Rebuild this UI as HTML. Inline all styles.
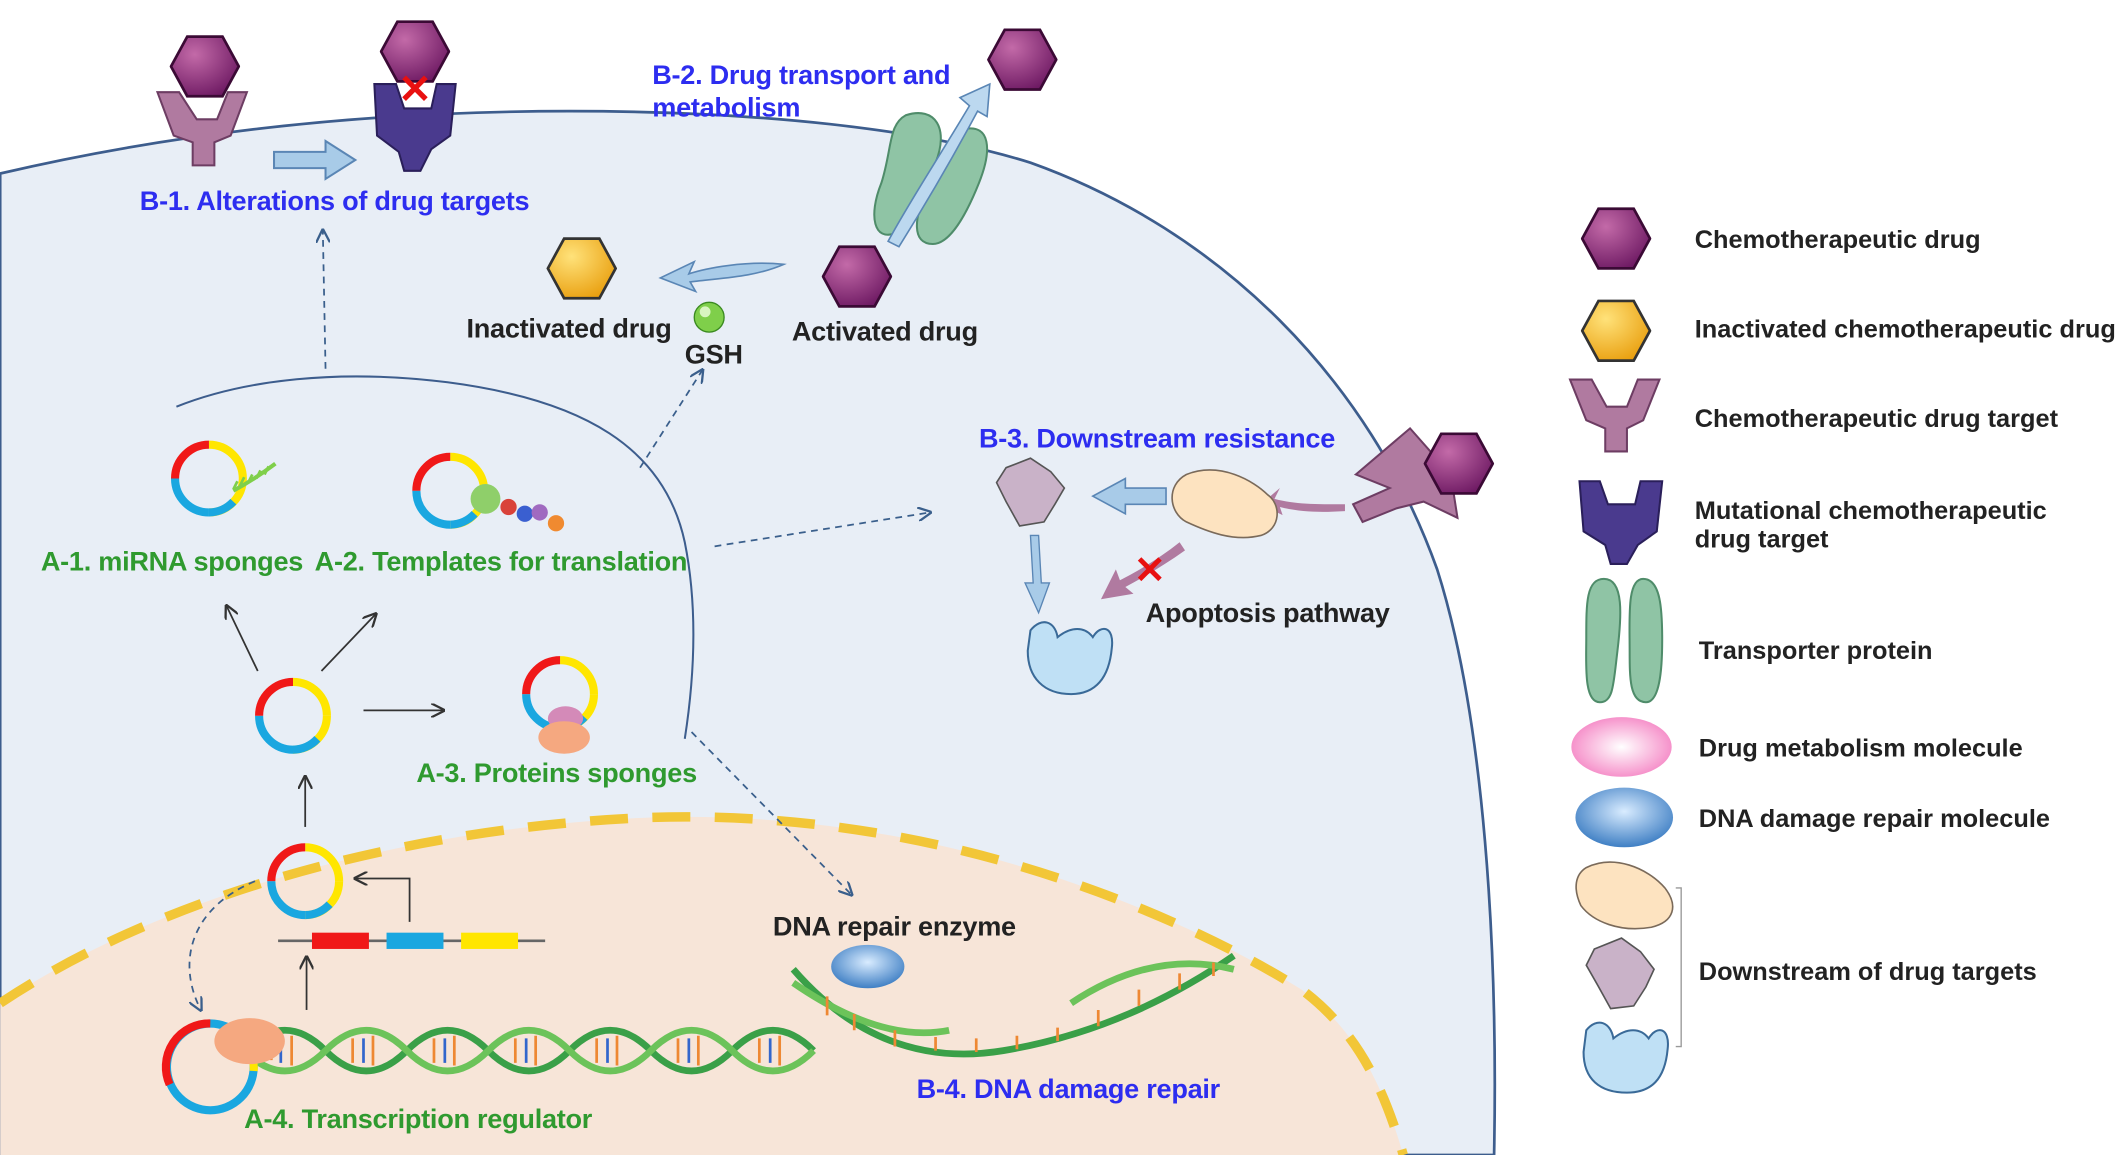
<!DOCTYPE html>
<html><head><meta charset="utf-8"><style>
html,body{margin:0;padding:0;background:#fff;width:2126px;height:1155px;overflow:hidden}
svg{display:block}
text{font-family:"Liberation Sans",Arial,sans-serif;font-weight:bold}
.b{fill:#2d2df0;font-size:20px;letter-spacing:-0.2px}
.g{fill:#2f9a2f;font-size:20px;letter-spacing:-0.2px}
.k{fill:#222;font-size:20px;letter-spacing:-0.2px}
.l{fill:#222;font-size:18.7px}
</style></head><body>
<svg width="2126" height="1155" viewBox="0 0 1568 852" xmlns="http://www.w3.org/2000/svg">
<defs>
<radialGradient id="hp" cx="0.35" cy="0.3" r="0.8"><stop offset="0" stop-color="#c36aa8"/><stop offset="1" stop-color="#6a1660"/></radialGradient>
<radialGradient id="hy" cx="0.35" cy="0.3" r="0.8"><stop offset="0" stop-color="#ffe27a"/><stop offset="1" stop-color="#e89c0a"/></radialGradient>
<radialGradient id="pk" cx="0.5" cy="0.5" r="0.6"><stop offset="0" stop-color="#fff"/><stop offset="1" stop-color="#f47cc0"/></radialGradient>
<radialGradient id="bl" cx="0.5" cy="0.4" r="0.6"><stop offset="0" stop-color="#d9ecff"/><stop offset="1" stop-color="#3f7fc4"/></radialGradient>
<marker id="ar" markerWidth="8" markerHeight="8" refX="7" refY="4" orient="auto"><path d="M0,0 L8,4 L0,8" fill="none" stroke="#3a5f8c" stroke-width="1.3"/></marker>
<marker id="ak" markerWidth="8" markerHeight="8" refX="7" refY="4" orient="auto"><path d="M0,0 L8,4 L0,8" fill="none" stroke="#333" stroke-width="1.3"/></marker>
<symbol id="hex" viewBox="-26 -24 52 48"><polygon points="-13,-22 13,-22 25,0 13,22 -13,22 -25,0" fill="url(#hp)" stroke="#3b0a35" stroke-width="2"/></symbol>
<symbol id="hexy" viewBox="-26 -24 52 48"><polygon points="-13,-22 13,-22 25,0 13,22 -13,22 -25,0" fill="url(#hy)" stroke="#333" stroke-width="2"/></symbol>
<symbol id="ring" viewBox="-30 -30 60 60">
<path d="M0,-25 A25,25 0 0 1 25,0" fill="none" stroke="#ffe600" stroke-width="6"/>
<path d="M25,0 A25,25 0 0 1 0,25" fill="none" stroke="#ffe600" stroke-width="6"/>
<path d="M0,25 A25,25 0 0 1 -25,0" fill="none" stroke="#1aa7e0" stroke-width="6"/>
<path d="M-25,0 A25,25 0 0 1 0,-25" fill="none" stroke="#f01818" stroke-width="6"/>
<path d="M18,17 A25,25 0 0 1 0,25" fill="none" stroke="#1aa7e0" stroke-width="6"/>
</symbol>
</defs>
<path d="M0,128 C120,100 260,82 420,82 C560,82 680,95 760,120 C900,170 1010,280 1060,420 C1095,530 1105,700 1102,852 L0,852 Z" fill="#e8eef6" stroke="#3d5d8d" stroke-width="2"/>
<path d="M0,740 C120,660 300,610 480,603 C700,596 880,680 960,730 C1000,760 1020,800 1035,852 L0,852 Z" fill="#f7e5d8"/>
<path d="M0,740 C120,660 300,610 480,603 C700,596 880,680 960,730 C1000,760 1020,800 1035,852" fill="none" stroke="#f2c637" stroke-width="7" stroke-dasharray="28,18"/>
<path d="M130,300 C180,280 250,272 330,282 C430,295 490,330 505,400 C515,450 512,500 505,545" fill="none" stroke="#3d5d8d" stroke-width="1.5"/>

<use href="#hex" x="125" y="25" width="52" height="48"/>
<path d="M116,68 L132,68 L145,88 L160,88 L168,68 L182,68 L170,100 L158,105 L158,122 L142,122 L142,105 L128,100 Z" fill="#b07aa0" stroke="#6d3d63" stroke-width="1.5"/>
<path d="M202,112 L240,112 L240,104 L262,118 L240,132 L240,124 L202,124 Z" fill="#a8cbe8" stroke="#5a86b5" stroke-width="1.5"/>
<use href="#hex" x="280" y="14" width="52" height="48"/>
<path d="M276,62 L292,62 L298,80 L318,80 L322,62 L336,62 L332,100 L318,110 L310,126 L298,126 L294,112 L278,100 Z" fill="#4a3a8e" stroke="#2a1f5a" stroke-width="1.5"/>
<text x="306" y="76" fill="#e81010" font-size="30" text-anchor="middle" font-weight="bold">✕</text>
<text x="103" y="155" class="b">B-1. Alterations of drug targets</text>
<line x1="240" y1="272" x2="238" y2="170" stroke="#3a5f8c" stroke-width="1.3" stroke-dasharray="5,4" marker-end="url(#ar)"/>

<text x="481" y="62" class="b">B-2. Drug transport and</text>
<text x="481" y="86" class="b">metabolism</text>
<use href="#hex" x="728" y="20" width="52" height="48"/>
<path d="M668,85 C690,78 700,95 690,120 C680,145 670,165 660,172 C645,178 640,160 650,135 C658,110 655,92 668,85Z" fill="#8fc4a5" stroke="#4f8c6a" stroke-width="1.5"/>
<path d="M712,95 C730,92 732,110 722,135 C712,160 700,180 688,180 C672,180 674,160 684,140 C694,118 698,100 712,95Z" fill="#8fc4a5" stroke="#4f8c6a" stroke-width="1.5"/>
<path d="M655,178 C670,150 690,120 715,78 L708,72 L730,62 L728,86 L721,82 C698,125 678,158 663,182 Z" fill="#bcd8ef" stroke="#5a86b5" stroke-width="1.2"/>
<use href="#hex" x="606" y="180" width="52" height="48"/>
<path d="M578,195 C550,192 520,198 508,202 L512,193 L487,205 L513,215 L509,208 C530,205 555,205 578,195Z" fill="#a8cbe8" stroke="#5a86b5" stroke-width="1.2"/>
<use href="#hexy" x="403" y="174" width="52" height="48"/>
<circle cx="523" cy="234" r="11" fill="#7fcf4a" stroke="#3a8a20" stroke-width="1"/>
<circle cx="520" cy="230" r="4" fill="#d8f5c0"/>
<text x="344" y="249" class="k">Inactivated drug</text>
<text x="505" y="268" class="k">GSH</text>
<text x="584" y="251" class="k">Activated drug</text>
<line x1="472" y1="345" x2="518" y2="273" stroke="#3a5f8c" stroke-width="1.3" stroke-dasharray="5,4" marker-end="url(#ar)"/>

<text x="722" y="330" class="b">B-3. Downstream resistance</text>
<line x1="527" y1="403" x2="686" y2="378" stroke="#3a5f8c" stroke-width="1.3" stroke-dasharray="5,4" marker-end="url(#ar)"/>
<path d="M1000,350 L1040,316 L1070,350 L1075,382 L1050,370 L1030,375 L1005,385 L998,372 L1025,360 Z" fill="#b07aa0" stroke="#6d3d63" stroke-width="1.5"/>
<use href="#hex" x="1050" y="318" width="52" height="48"/>
<path d="M992,372 C970,372 955,372 940,368 L944,360 L930,372 L946,380 L944,374 C960,378 975,378 992,377Z" fill="#b07aa0"/>
<path d="M875,350 C900,340 925,355 935,365 C945,372 945,390 930,395 C910,400 890,392 875,385 C862,378 860,358 875,350Z" fill="#fde3c0" stroke="#7a6a5a" stroke-width="1.2"/>
<path d="M860,360 L830,360 L830,353 L806,366 L830,379 L830,372 L860,372 Z" fill="#a8cbe8" stroke="#5a86b5" stroke-width="1.2"/>
<path d="M742,345 L760,338 L775,348 L785,360 L778,372 L770,385 L752,388 L742,370 L735,356 Z" fill="#c9b2c8" stroke="#555" stroke-width="1.2"/>
<path d="M760,395 L762,430 L756,430 L766,452 L774,430 L768,430 L766,395Z" fill="#a8cbe8" stroke="#5a86b5" stroke-width="1"/>
<path d="M870,400 C855,412 838,422 826,428 L823,420 L812,442 L836,438 L830,433 C845,425 860,416 874,406Z" fill="#b07aa0"/>
<text x="848" y="430" fill="#e81010" font-size="28" text-anchor="middle" font-weight="bold">✕</text>
<path d="M760,465 C768,455 778,458 780,470 C790,462 800,462 806,470 C812,460 822,462 820,478 C818,500 808,512 790,512 C770,512 758,500 758,480 Z" fill="#bfe0f5" stroke="#3a6a98" stroke-width="1.5"/>
<text x="845" y="459" class="k">Apoptosis pathway</text>

<use href="#ring" x="124" y="323" width="60" height="60"/>
<path d="M172,362 C185,355 195,348 203,342" stroke="#7fcf4a" stroke-width="3" fill="none"/>
<path d="M175,355 l-3,6 M180,352 l-3,6 M186,350 l-3,6 M192,347 l-3,6 M198,344 l-3,6" stroke="#7fcf4a" stroke-width="2"/>
<use href="#ring" x="302" y="332" width="60" height="60"/>
<circle cx="358" cy="368" r="11" fill="#8fcf6a"/>
<circle cx="375" cy="374" r="6" fill="#d9423a"/><circle cx="387" cy="379" r="6" fill="#3a5fd0"/><circle cx="398" cy="378" r="6" fill="#a06ac0"/><circle cx="410" cy="386" r="6" fill="#f08a30"/>
<text x="30" y="421" class="g">A-1. miRNA sponges</text>
<text x="232" y="421" class="g">A-2. Templates for translation</text>
<use href="#ring" x="186" y="498" width="60" height="60"/>
<line x1="190" y1="495" x2="167" y2="447" stroke="#333" stroke-width="1.3" marker-end="url(#ak)"/>
<line x1="237" y1="495" x2="277" y2="453" stroke="#333" stroke-width="1.3" marker-end="url(#ak)"/>
<line x1="268" y1="524" x2="327" y2="524" stroke="#333" stroke-width="1.3" marker-end="url(#ak)"/>
<use href="#ring" x="383" y="482" width="60" height="60"/>
<ellipse cx="417" cy="530" rx="13" ry="9" fill="#d48ab8"/>
<ellipse cx="416" cy="544" rx="19" ry="12" fill="#f5a880"/>
<text x="307" y="577" class="g">A-3. Proteins  sponges</text>
<line x1="225" y1="610" x2="225" y2="573" stroke="#333" stroke-width="1.3" marker-end="url(#ak)"/>
<use href="#ring" x="195" y="620" width="60" height="60"/>
<path d="M302,680 L302,648 L262,648" fill="none" stroke="#333" stroke-width="1.3" marker-end="url(#ak)"/>
<line x1="205" y1="694" x2="402" y2="694" stroke="#666" stroke-width="2"/>
<rect x="230" y="688" width="42" height="12" fill="#f01818"/><rect x="285" y="688" width="42" height="12" fill="#1aa7e0"/><rect x="340" y="688" width="42" height="12" fill="#ffe600"/>
<line x1="226" y1="745" x2="226" y2="706" stroke="#333" stroke-width="1.3" marker-end="url(#ak)"/>
<path d="M188,650 C140,670 130,710 148,745" fill="none" stroke="#3a5f8c" stroke-width="1.3" stroke-dasharray="5,4" marker-end="url(#ar)"/>
<line x1="510" y1="540" x2="628" y2="660" stroke="#3a5f8c" stroke-width="1.3" stroke-dasharray="5,4" marker-end="url(#ar)"/>
<g stroke-width="5" fill="none">
<path d="M180,775 Q210,745 240,775 T300,775 T360,775 T420,775 T480,775 T540,775 T600,775" stroke="#3aa048"/>
<path d="M180,775 Q210,805 240,775 T300,775 T360,775 T420,775 T480,775 T540,775 T600,775" stroke="#6cc35a"/>
<path d="M585,715 Q650,790 740,775 Q830,760 910,705" stroke="#3aa048"/>
<path d="M585,725 Q650,770 700,760" stroke="#6cc35a"/>
<path d="M790,740 Q850,700 910,715" stroke="#6cc35a"/>
</g>
<g stroke-width="2">
<path d="M200,768 v14 M215,764 v22 M260,766 v18 M275,764 v22 M320,766 v18 M335,764 v22 M380,766 v18 M395,764 v22 M440,766 v18 M455,764 v22 M500,766 v18 M515,764 v22 M560,766 v18 M575,764 v22" stroke="#e83" />
<path d="M207,766 v18 M268,766 v18 M328,766 v18 M388,766 v18 M448,766 v18 M508,766 v18 M568,766 v18" stroke="#36c"/>
<path d="M610,735 v14 M630,748 v12 M660,760 v12 M690,765 v10 M720,766 v10 M750,764 v10 M780,758 v10 M810,745 v12 M840,730 v12 M870,718 v12 M895,710 v10" stroke="#e83"/>
</g>
<ellipse cx="155" cy="787" rx="32" ry="32" fill="none" stroke="#1aa7e0" stroke-width="6"/>
<path d="M125,800 A32,32 0 0 1 155,755" fill="none" stroke="#f01818" stroke-width="6"/>
<path d="M180,768 A32,32 0 0 1 187,790" fill="none" stroke="#ffe600" stroke-width="6"/>
<ellipse cx="184" cy="768" rx="26" ry="17" fill="#f5a880"/>
<ellipse cx="640" cy="713" rx="27" ry="16" fill="url(#bl)"/>
<text x="570" y="690" class="k">DNA repair enzyme</text>
<text x="180" y="832" class="g">A-4. Transcription regulator</text>
<text x="676" y="810" class="b">B-4. DNA damage repair</text>

<use href="#hex" x="1166" y="152" width="52" height="48"/>
<text x="1250" y="183" class="l">Chemotherapeutic drug</text>
<use href="#hexy" x="1166" y="220" width="52" height="48"/>
<text x="1250" y="249" class="l">Inactivated chemotherapeutic drug</text>
<path d="M1158,280 L1174,280 L1185,300 L1200,300 L1208,280 L1224,280 L1212,310 L1200,316 L1200,333 L1184,333 L1184,316 L1170,310 Z" fill="#b07aa0" stroke="#6d3d63" stroke-width="1.5"/>
<text x="1250" y="315" class="l">Chemotherapeutic drug target</text>
<path d="M1165,355 L1180,355 L1186,372 L1206,372 L1210,355 L1226,355 L1222,392 L1208,402 L1200,416 L1188,416 L1184,402 L1168,392 Z" fill="#4a3a8e" stroke="#2a1f5a" stroke-width="1.5"/>
<text x="1250" y="383" class="l">Mutational chemotherapeutic</text>
<text x="1250" y="404" class="l">drug target</text>
<path d="M1183,427 C1198,427 1196,455 1193,480 C1190,505 1190,518 1180,518 C1168,518 1170,490 1170,470 C1170,445 1170,427 1183,427Z" fill="#8fc4a5" stroke="#4f8c6a" stroke-width="1.5"/>
<path d="M1212,427 C1225,427 1226,450 1226,472 C1226,495 1224,518 1214,518 C1202,518 1202,500 1202,480 C1202,455 1200,427 1212,427Z" fill="#8fc4a5" stroke="#4f8c6a" stroke-width="1.5"/>
<text x="1253" y="486" class="l">Transporter protein</text>
<ellipse cx="1196" cy="551" rx="37" ry="22" fill="url(#pk)"/>
<text x="1253" y="558" class="l">Drug metabolism molecule</text>
<ellipse cx="1198" cy="603" rx="36" ry="22" fill="url(#bl)"/>
<text x="1253" y="610" class="l">DNA damage repair molecule</text>
<path d="M1170,640 C1190,630 1215,640 1228,655 C1238,668 1235,680 1218,684 C1195,688 1175,680 1166,668 C1160,655 1162,645 1170,640Z" fill="#fde3c0" stroke="#7a6a5a" stroke-width="1.2"/>
<path d="M1176,700 L1196,692 L1210,702 L1220,715 L1214,728 L1205,742 L1188,744 L1178,726 L1170,712 Z" fill="#c9b2c8" stroke="#555" stroke-width="1.2"/>
<path d="M1170,760 C1178,750 1188,754 1190,766 C1200,758 1210,758 1216,766 C1222,756 1232,758 1230,774 C1228,796 1218,806 1200,806 C1180,806 1168,796 1168,776 Z" fill="#bfe0f5" stroke="#3a6a98" stroke-width="1.5"/>
<path d="M1236,655 L1240,655 L1240,772 L1236,772" fill="none" stroke="#999" stroke-width="1"/>
<text x="1253" y="723" class="l">Downstream of drug targets</text>
</svg>
</body></html>
